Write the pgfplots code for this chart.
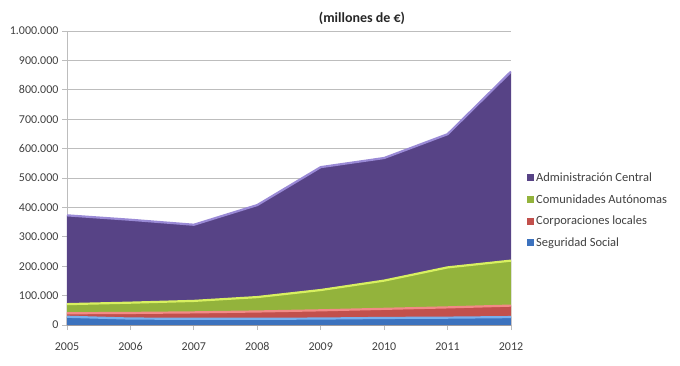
\documentclass[border=0pt]{standalone}
\usepackage{pgfplots}
\pgfplotsset{compat=1.18}
\usepackage{pgfplotstable}
\usepackage{fontspec}
\setmainfont{Carlito}
\definecolor{cpurple}{HTML}{574386}
\definecolor{epurple}{HTML}{9A8AD6}
\definecolor{cgreen}{HTML}{93B33C}
\definecolor{egreen}{HTML}{D8F060}
\definecolor{cred}{HTML}{C2504C}
\definecolor{ered}{HTML}{F28A86}
\definecolor{cblue}{HTML}{3C72BE}
\definecolor{eblue}{HTML}{78B0EE}
\definecolor{gridgray}{HTML}{BDBDBD}
\definecolor{txt}{HTML}{404040}
% cumulative tops of each layer (millones de euros)
\pgfplotstableread{
year ss    loc   ccaa   total
2005 28000 40000 71000  373000
2006 22000 41000 76000  358000
2007 21000 43000 82000  341000
2008 21000 46000 95000  408000
2009 22000 50000 119000 537000
2010 24000 55000 151000 568000
2011 25000 60000 196000 649000
2012 27000 66000 219000 862000
}\datatable
\begin{document}
\begin{tikzpicture}[x=1bp,y=1bp]
\path[use as bounding box] (-67,-40) rectangle (613,325);
\begin{axis}[
  at={(0,0)}, anchor=south west,
  width=444bp, height=294bp, scale only axis,
  xmin=2005, xmax=2012, ymin=0, ymax=1000000,
  xtick={2005,2006,...,2012},
  ytick={0,100000,200000,300000,400000,500000,600000,700000,800000,900000,1000000},
  scaled y ticks=false,
  axis x line*=bottom, axis y line*=left,
  axis line style={gridgray, line width=0.8bp},
  every tick/.style={gridgray, line width=0.8bp},
  major tick length=5bp,
  tick align=outside,
  ymajorgrids, grid style={gridgray, line width=0.8bp},
  /pgf/number format/assume math mode=true,
  yticklabel style={/pgf/number format/fixed, /pgf/number format/1000 sep={.}},
  xticklabel style={/pgf/number format/1000 sep={}, yshift=-9bp},
  tick label style={font=\fontsize{12bp}{14bp}\selectfont, text=txt},
  legend cell align=left,
  legend style={at={(1.036,0.39)}, anchor=west, draw=none, fill=none,
    font=\fontsize{12.5bp}{15bp}\selectfont, text=txt, row sep=7.5bp,
    inner sep=0pt, nodes={inner xsep=2bp}},
  legend image code/.code={\draw[#1, draw=none] (0bp,-3.5bp) rectangle (7bp,3.5bp);},
]
\addplot[fill=cpurple, draw=none] table[x=year, y=total] {\datatable} \closedcycle;
\addlegendentry{Administración Central}
\addplot[fill=cgreen, draw=none] table[x=year, y=ccaa] {\datatable} \closedcycle;
\addlegendentry{Comunidades Autónomas}
\addplot[fill=cred, draw=none] table[x=year, y=loc] {\datatable} \closedcycle;
\addlegendentry{Corporaciones locales}
\addplot[fill=cblue, draw=none] table[x=year, y=ss] {\datatable} \closedcycle;
\addlegendentry{Seguridad Social}
\addplot[forget plot, epurple, line width=2.2bp] table[x=year, y=total] {\datatable};
\addplot[forget plot, egreen, line width=2.2bp] table[x=year, y=ccaa] {\datatable};
\addplot[forget plot, ered, line width=2.2bp] table[x=year, y=loc] {\datatable};
\addplot[forget plot, eblue, line width=2.2bp] table[x=year, y=ss] {\datatable};
\end{axis}
\node[font=\fontsize{14bp}{16bp}\selectfont\bfseries, text=black!85] at (295,307) {(millones de €)};
\end{tikzpicture}
\end{document}
